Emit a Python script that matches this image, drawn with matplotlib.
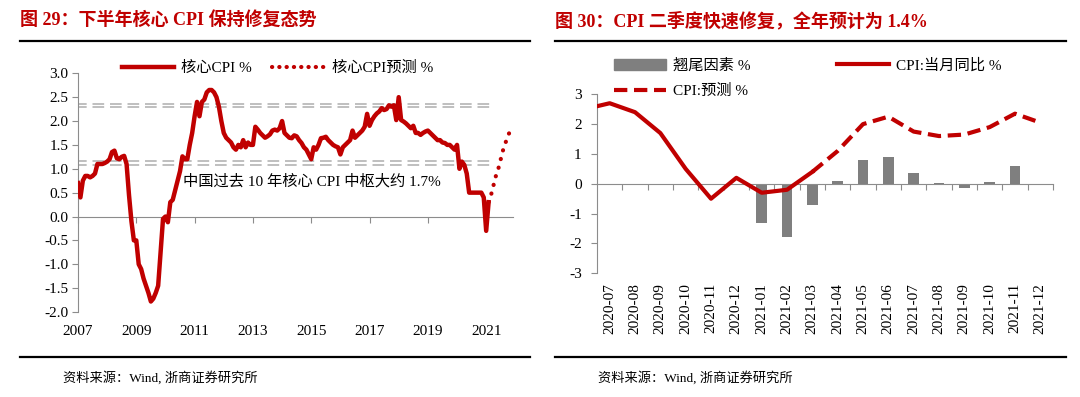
import matplotlib
matplotlib.use('Agg')
import matplotlib.pyplot as plt
from matplotlib.lines import Line2D
from matplotlib.patches import Patch
import numpy as np

plt.rcParams['font.family'] = ['Liberation Serif', 'Noto Sans CJK SC']
plt.rcParams['axes.unicode_minus'] = False

RED = '#C00000'
GRAY = '#7F7F7F'
AX_GRAY = '#8C8C8C'

# ---- chart 29: monthly core CPI, 2007-01 .. 2021-02, forecast to 2021-12
core_cpi = [
    0.7, 0.4, 0.75, 0.85, 0.85, 0.82, 0.85, 0.9, 1.1, 1.1, 1.1, 1.12,          # 2007
    1.15, 1.2, 1.35, 1.38, 1.22, 1.2, 1.25, 1.27, 1.1, 0.45, -0.1, -0.5,       # 2008
    -0.5, -1.0, -1.1, -1.3, -1.45, -1.6, -1.78, -1.72, -1.6, -1.45, -0.75, -0.05,  # 2009
    0.0, -0.12, 0.3, 0.35, 0.55, 0.75, 0.95, 1.26, 1.2, 1.2, 1.5, 1.75,        # 2010
    2.1, 2.4, 2.1, 2.4, 2.45, 2.6, 2.65, 2.65, 2.6, 2.5, 2.3, 2.0,             # 2011
    1.75, 1.65, 1.6, 1.55, 1.45, 1.4, 1.5, 1.45, 1.6, 1.45, 1.55, 1.5,         # 2012
    1.5, 1.88, 1.82, 1.75, 1.7, 1.65, 1.68, 1.72, 1.8, 1.82, 1.8, 1.85,        # 2013
    2.0, 1.75, 1.7, 1.65, 1.64, 1.7, 1.68, 1.6, 1.54, 1.45, 1.4, 1.3,          # 2014
    1.2, 1.45, 1.4, 1.5, 1.64, 1.65, 1.67, 1.6, 1.55, 1.5, 1.47, 1.45,         # 2015
    1.3, 1.45, 1.5, 1.55, 1.6, 1.8, 1.65, 1.7, 1.75, 1.8, 1.88, 2.15,          # 2016
    1.9, 2.02, 2.1, 2.16, 2.2, 2.27, 2.23, 2.25, 2.33, 2.3, 2.33, 2.02,        # 2017
    2.5, 2.02, 1.99, 1.95, 1.9, 1.85, 1.9, 1.75, 1.75, 1.71, 1.75, 1.78,       # 2018
    1.8, 1.75, 1.7, 1.65, 1.6, 1.6, 1.55, 1.54, 1.5, 1.5, 1.45, 1.4,           # 2019
    1.5, 1.0, 1.15, 1.08, 0.9, 0.5, 0.5, 0.5, 0.5, 0.5, 0.5, 0.4,              # 2020
    -0.3, 0.3,                                                                 # 2021
]
core_fcst = [0.3, 0.45, 0.65, 0.85, 1.0, 1.2, 1.4, 1.55, 1.7, 1.8, 1.85]  # 2021-02..12
core_center = [2.32, 1.12]
year_ticks = [2007, 2009, 2011, 2013, 2015, 2017, 2019, 2021]

# ---- chart 30: CPI y/y, carry-over factor, forecast
months = ['2020-06', '2020-07', '2020-08', '2020-09', '2020-10', '2020-11', '2020-12',
          '2021-01', '2021-02', '2021-03', '2021-04', '2021-05', '2021-06',
          '2021-07', '2021-08', '2021-09', '2021-10', '2021-11', '2021-12']
cpi_actual = [2.5, 2.7, 2.4, 1.7, 0.5, -0.5, 0.2, -0.3, -0.2, 0.4]
cpi_fcst = [0.4, 1.1, 2.0, 2.25, 1.75, 1.6, 1.65, 1.9, 2.35, 2.05]   # 2021-03..12
carry = [0, 0, 0, 0, 0, 0, 0, -1.3, -1.78, -0.72, 0.08, 0.8, 0.9,
         0.37, 0.02, -0.15, 0.07, 0.6, 0.0]

DOTS = (0, (0.05, 2.1))

fig = plt.figure(figsize=(10.8, 3.97), dpi=100)

# ================= left chart =================
ax1 = fig.add_axes([0.0722, 0.2141, 0.4028, 0.6013])
t = 2007 + np.arange(len(core_cpi)) / 12
tf = t[-1] + np.arange(len(core_fcst)) / 12
for c in core_center:
    for off in (-0.035, 0.035):
        ax1.hlines(c + off, 2006.9, 2021.25, color='#B4B4B4', lw=1.2,
                   linestyles=(0, (7, 3.5)), zorder=1)
ax1.plot(t, core_cpi, color=RED, lw=3.2, solid_joinstyle='round', zorder=3)
ax1.plot(tf, core_fcst, color=RED, lw=3.0, linestyle=DOTS,
         dash_capstyle='round', zorder=3)
ax1.text(2010.6, 0.73, '中国过去 10 年核心 CPI 中枢大约 1.7%', fontsize=11,
         va='center', ha='left')
ax1.set_xlim(2007, 2021.92)
ax1.set_ylim(-2.0, 3.0)
ax1.set_yticks(np.arange(-2.0, 3.01, 0.5))
ax1.yaxis.set_major_formatter(matplotlib.ticker.FormatStrFormatter('%.1f'))
for s in ['top', 'right']:
    ax1.spines[s].set_visible(False)
ax1.spines['left'].set_color(AX_GRAY)
ax1.spines['bottom'].set_position(('data', 0))
ax1.spines['bottom'].set_color(AX_GRAY)
ax1.set_xticks(year_ticks)
ax1.tick_params(axis='x', length=4, color=AX_GRAY, labelbottom=False)
ax1.tick_params(axis='y', length=4, color=AX_GRAY, labelsize=11, pad=3)
sec1 = ax1.secondary_xaxis(0)
sec1.set_xticks(year_ticks)
sec1.set_xticklabels([str(y) for y in year_ticks])
sec1.tick_params(length=0, labelsize=11, pad=9)
sec1.spines['bottom'].set_visible(False)
h1 = [Line2D([], [], color=RED, lw=3.2),
      Line2D([], [], color=RED, lw=3.0, linestyle=(0, (0.05, 1.7)), dash_capstyle='round')]
ax1.legend(h1, ['核心CPI %', '核心CPI预测 %'], ncol=2, loc='upper left',
           bbox_to_anchor=(0.101, 1.05), frameon=False, fontsize=11,
           handlelength=3.4, handletextpad=0.5, columnspacing=1.3,
           borderpad=0, borderaxespad=0)

# ================= right chart =================
ax2 = fig.add_axes([0.5528, 0.3116, 0.4222, 0.4509])
x = np.arange(len(months))
ax2.bar(x, carry, width=0.42, color=GRAY, zorder=2)
ax2.plot(x[:len(cpi_actual)], cpi_actual, color=RED, lw=3.0, zorder=3)
xf = x[len(cpi_actual) - 1:]
ax2.plot(xf, cpi_fcst, color=RED, lw=3.0, linestyle=(0, (3.2, 1.6)), zorder=3)
ax2.set_xlim(0.5, len(months) - 0.5)
ax2.set_ylim(-3, 3)
ax2.set_yticks(range(-3, 4))
for s in ['top', 'right']:
    ax2.spines[s].set_visible(False)
ax2.spines['left'].set_color(AX_GRAY)
ax2.spines['bottom'].set_position(('data', 0))
ax2.spines['bottom'].set_color(AX_GRAY)
ax2.set_xticks(x[1:] + 0.5)
ax2.tick_params(axis='x', length=4, color=AX_GRAY, labelbottom=False)
ax2.tick_params(axis='y', length=4, color=AX_GRAY, labelsize=11, pad=7)
sec2 = ax2.secondary_xaxis(0)
sec2.set_xticks(x[1:])
sec2.set_xticklabels(months[1:], rotation=90)
sec2.tick_params(length=0, labelsize=11, pad=7)
sec2.spines['bottom'].set_visible(False)
h2 = [Patch(color=GRAY),
      Line2D([], [], color=RED, lw=3.0, linestyle=(0, (3.2, 1.6))),
      Line2D([], [], color=RED, lw=3.0)]
ax2.legend(h2, ['翘尾因素 %', 'CPI:预测 %', 'CPI:当月同比 %'], ncol=2,
           loc='upper left', bbox_to_anchor=(0.037, 1.2), frameon=False,
           fontsize=11, handlelength=3.4, handletextpad=0.45, columnspacing=5.7,
           labelspacing=0.75, borderpad=0, borderaxespad=0)

# ================= titles, rules, sources =================
fig.text(20 / 1080, 1 - 21 / 397, '图 29：下半年核心 CPI 保持修复态势', color=RED,
         fontsize=13, fontweight='bold', va='center', ha='left')
fig.text(555 / 1080, 1 - 21 / 397, '图 30：CPI 二季度快速修复，全年预计为 1.4%', color=RED,
         fontsize=13, fontweight='bold', va='center', ha='left')
for x0, x1 in [(20, 530), (555, 1066)]:
    for yy in (41, 357):
        fig.add_artist(Line2D([x0 / 1080, x1 / 1080], [1 - yy / 397] * 2,
                              transform=fig.transFigure, color='black', lw=1.6))
fig.text(63 / 1080, 1 - 378 / 397, '资料来源：Wind, 浙商证券研究所', fontsize=9.5,
         va='center', ha='left')
fig.text(598 / 1080, 1 - 378 / 397, '资料来源：Wind, 浙商证券研究所', fontsize=9.5,
         va='center', ha='left')

fig.savefig('out.png', dpi=100)
